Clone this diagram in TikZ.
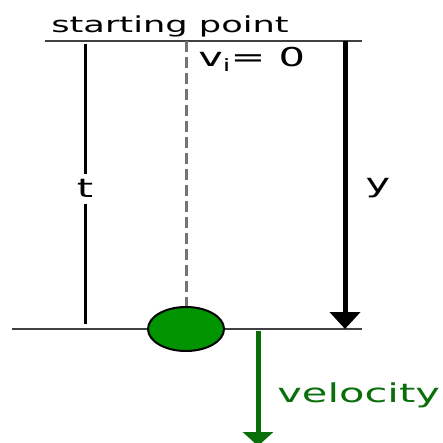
\documentclass[tikz,border=0pt]{standalone}
\usepackage{fontspec}
\setmainfont{DejaVu Sans}
\usepackage{xcolor}
\usetikzlibrary{positioning, shapes.geometric, arrows.meta}
\definecolor{ballgreen}{HTML}{009400}
\definecolor{velgreen}{HTML}{0A6E0A}
\tikzset{
  levelline/.style={line width=1.5pt, black!75},
  txt/.style={font=\fontsize{26}{28}\selectfont, inner sep=0pt, xscale=1.6},
}
\begin{document}
\begin{tikzpicture}[x=1pt, y=-1pt]
      \useasboundingbox (0,0) rectangle (443,443);
      % starting level
      \coordinate (topL) at (45,41);
      \coordinate (topR) at (362,41);
      \draw[levelline] (topL) -- (topR);
      \node[txt, font=\fontsize{22}{24}\selectfont, anchor=base] (start) at (170,33) {starting point};

      % ground level and ball
      \coordinate (botL) at (12,329);
      \coordinate (botR) at (362,329);
      \draw[levelline] (botL) -- (botR);
      \node[ellipse, draw, line width=2pt, fill=ballgreen, minimum width=76pt, minimum height=44pt] (ball) at (186,329) {};

      % path of the ball
      \coordinate (dropTop) at (186,41);
      \draw[line width=3pt, black!55, dash pattern=on 11pt off 5pt] (dropTop) -- (ball.north);
      \node[txt, anchor=base west] (vi) at (198,67) {v\raisebox{-0.3ex}{\fontsize{17}{17}\selectfont i}= 0};

      % time
      \coordinate (tTop) at (85,44);
      \coordinate (tBot) at (85,324);
      \draw[line width=3pt] (tTop) -- (tBot);
      \node[txt, fill=white, inner ysep=6pt, anchor=base] (tlabel) at (85,198) {t};

      % distance
      \coordinate (yTop) at (345,41);
      \coordinate (yBot) at (345,329);
      \draw[line width=5pt, -{Triangle[width=30pt, length=17pt]}] (yTop) -- (yBot);
      \node[txt, anchor=base] (ylabel) at (378,193) {y};

      % velocity
      \coordinate (velTop) at (258,331);
      \coordinate (velBot) at (258,446);
      \draw[velgreen, line width=5pt, -{Triangle[width=30pt, length=14pt]}] (velTop) -- (velBot);
      \node[txt, velgreen, anchor=base west] (vel) at (277,402) {velocity};
    \end{tikzpicture}
\end{document}
